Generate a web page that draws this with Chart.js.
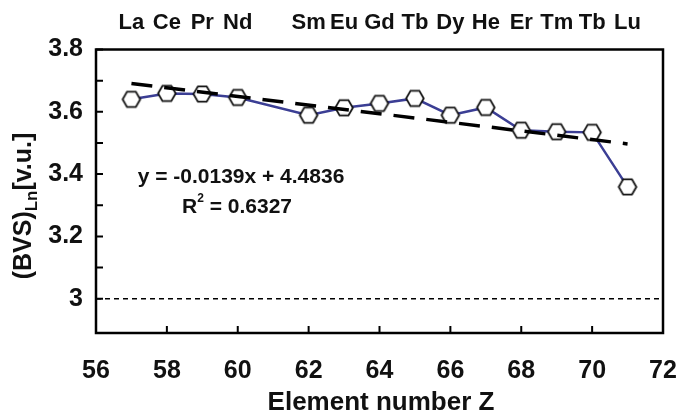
<!DOCTYPE html>
<html>
<head>
<meta charset="utf-8">
<script src="https://cdn.jsdelivr.net/npm/chart.js"></script>
<style>
  html, body { margin: 0; padding: 0; background: #fff; }
  #wrap { width: 680px; height: 416px; }
</style>
</head>
<body>
<div id="wrap"><canvas id="bvsChart" width="680" height="416"></canvas></div>
<script>
// values
var element_z = [57, 58, 59, 60, 62, 63, 64, 65, 66, 67, 68, 69, 70, 71]
var bvs_values = [3.640, 3.659, 3.657, 3.646, 3.589, 3.613, 3.627, 3.643, 3.589, 3.614, 3.541, 3.536, 3.534, 3.359]
var symbols = ["La", "Ce", "Pr", "Nd", "Sm", "Eu", "Gd", "Tb", "Dy", "He", "Er", "Tm", "Tb", "Lu"]

// linear fit y = -0.0139x + 4.4836, ends as drawn
var trend_z = [57, 71]
var trend_y = [3.691, 3.497]

// dashed reference line at 3
var ref_z = [56, 72]
var ref_y = [3, 3]

var x_ticks = [56, 58, 60, 62, 64, 66, 68, 70, 72]
var y_ticks = [3, 3.1, 3.2, 3.3, 3.4, 3.5, 3.6, 3.7, 3.8]

var eq_text = "y = -0.0139x + 4.4836"
var r2_value = "0.6327"

var FONT = "'Liberation Sans', Arial, sans-serif"

function toPoints(xs, ys){
    var out = []
    for (var i = 0; i < xs.length; i++){
        out.push({x: xs[i], y: ys[i]})
    }
    return out
}

// hexagon marker
function makeHex(){
    var c = document.createElement("canvas")
    c.width = 22
    c.height = 22
    var g = c.getContext("2d")
    var r = 8.8
    g.beginPath()
    for (var i = 0; i < 6; i++){
        var a = Math.PI / 3 * i
        var px = 11 + r * Math.cos(a)
        var py = 11 + r * Math.sin(a)
        if (i == 0) g.moveTo(px, py); else g.lineTo(px, py)
    }
    g.closePath()
    g.fillStyle = "#fff"
    g.fill()
    g.lineWidth = 1.8
    g.strokeStyle = "#111"
    g.stroke()
    return c
}

var framePlugin = {
    id: "frame",
    afterDraw: function(chart){
        var ctx = chart.ctx
        var a = chart.chartArea
        var xs = chart.scales.x
        var ys = chart.scales.y
        ctx.save()
        ctx.strokeStyle = "#000"
        ctx.lineWidth = 2.5
        ctx.strokeRect(a.left, a.top, a.right - a.left, a.bottom - a.top)

        // inward ticks
        ctx.lineWidth = 2
        ctx.beginPath()
        for (var i = 0; i < y_ticks.length; i++){
            var py = ys.getPixelForValue(y_ticks[i])
            ctx.moveTo(a.left, py)
            ctx.lineTo(a.left + 7, py)
        }
        for (var j = 1; j < x_ticks.length - 1; j++){
            var px = xs.getPixelForValue(x_ticks[j])
            ctx.moveTo(px, a.bottom)
            ctx.lineTo(px, a.bottom - 7)
        }
        ctx.stroke()

        ctx.fillStyle = "#111"
        // element symbols on top
        ctx.font = "bold 22px " + FONT
        ctx.textAlign = "center"
        ctx.textBaseline = "middle"
        for (var k = 0; k < symbols.length; k++){
            ctx.fillText(symbols[k], xs.getPixelForValue(element_z[k]), 23)
        }

        // fit equation
        ctx.font = "bold 21px " + FONT
        ctx.fillText(eq_text, 241, 177)
        var r2a = "R"
        var r2b = " = " + r2_value
        var wA = ctx.measureText(r2a).width
        var wB = ctx.measureText(r2b).width
        ctx.font = "bold 12px " + FONT
        var wS = ctx.measureText("2").width
        var x0 = 237 - (wA + wS + wB) / 2
        ctx.textAlign = "left"
        ctx.font = "bold 21px " + FONT
        ctx.fillText(r2a, x0, 207)
        ctx.fillText(r2b, x0 + wA + wS, 207)
        ctx.font = "bold 12px " + FONT
        ctx.fillText("2", x0 + wA, 199)

        // x title
        ctx.font = "bold 26px " + FONT
        ctx.textAlign = "center"
        ctx.fillText("Element number Z", 381, 403)

        // y title with subscript
        ctx.translate(26, 206)
        ctx.rotate(-Math.PI / 2)
        ctx.textAlign = "left"
        var p1 = "(BVS)", p2 = "Ln", p3 = "[v.u.]"
        ctx.font = "bold 25px " + FONT
        var w1 = ctx.measureText(p1).width
        var w3 = ctx.measureText(p3).width
        ctx.font = "bold 17px " + FONT
        var w2 = ctx.measureText(p2).width
        var sx = -(w1 + w2 + w3) / 2
        ctx.font = "bold 25px " + FONT
        ctx.fillText(p1, sx, -2)
        ctx.fillText(p3, sx + w1 + w2, -2)
        ctx.font = "bold 17px " + FONT
        ctx.fillText(p2, sx + w1, 6)
        ctx.restore()
    }
}

var bvsChart

function load(){
    var ctx = document.getElementById("bvsChart").getContext("2d")
    bvsChart = new Chart(ctx, {
        type: "scatter",
        data: {
            datasets: [
                {
                    label: "fit",
                    data: toPoints(trend_z, trend_y),
                    showLine: true,
                    borderColor: "#000",
                    borderWidth: 3.5,
                    borderDash: [21, 12],
                    pointRadius: 0,
                    order: 0
                },
                {
                    label: "BVS",
                    data: toPoints(element_z, bvs_values),
                    showLine: true,
                    borderColor: "#3b3e94",
                    borderWidth: 2.5,
                    pointStyle: makeHex(),
                    pointRadius: 9,
                    order: 1
                },
                {
                    label: "ref",
                    data: toPoints(ref_z, ref_y),
                    showLine: true,
                    borderColor: "#000",
                    borderWidth: 1.5,
                    borderDash: [5, 4],
                    pointRadius: 0,
                    order: 2
                }
            ]
        },
        options: {
            responsive: false,
            animation: false,
            layout: { padding: { top: 49.5, right: 17, left: 0, bottom: 0 } },
            plugins: { legend: { display: false }, tooltip: { enabled: false } },
            scales: {
                x: {
                    type: "linear",
                    min: 56,
                    max: 72,
                    afterBuildTicks: function(s){ s.ticks = x_ticks.map(function(v){ return {value: v} }) },
                    afterFit: function(s){
                        s.height = 83
                        s.paddingLeft = 0
                        s.paddingRight = 0
                    },
                    grid: { display: false, drawTicks: false },
                    border: { display: false },
                    ticks: {
                        color: "#111",
                        padding: 23,
                        maxRotation: 0,
                        autoSkip: false,
                        font: { family: FONT, size: 25, weight: "bold" }
                    }
                },
                y: {
                    min: 2.89,
                    max: 3.8,
                    afterBuildTicks: function(s){ s.ticks = y_ticks.map(function(v){ return {value: v} }) },
                    afterFit: function(s){
                        s.width = 96
                        s.paddingTop = 0
                        s.paddingBottom = 0
                    },
                    grid: { display: false, drawTicks: false },
                    border: { display: false },
                    ticks: {
                        color: "#111",
                        padding: 13,
                        autoSkip: false,
                        font: { family: FONT, size: 25, weight: "bold" },
                        callback: function(v){
                            return Math.round(v * 10) % 2 == 0 ? String(v) : ""
                        }
                    }
                }
            }
        },
        plugins: [framePlugin]
    })
}

load()
</script>
</body>
</html>
